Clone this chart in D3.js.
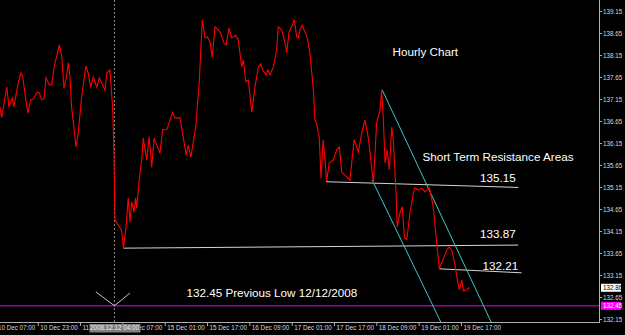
<!DOCTYPE html>
<meta charset="utf-8">
<style>
body { margin: 0; background: #000; }
svg { display: block; background: #000; }
.axis text { font-family: "Liberation Sans", Arial, sans-serif; font-size: 6.3px; fill: #d8d8d8; }
.axis line { stroke: #b0b0b0; }
.axis path { display: none; }
.note { font-family: "Liberation Sans", Arial, sans-serif; font-size: 11.7px; fill: #fff; }
.tag { font-family: "Liberation Sans", Arial, sans-serif; font-size: 6.3px; }
</style>
<svg width="625" height="335"></svg>
<script src="https://cdn.jsdelivr.net/npm/d3@7"></script>
<script>
// hourly bar index (0 = 10 Dec 07:00), weekend bars skipped
var bars = [
  1.7, 2.4, 4.3, 5.1, 6.4, 7.0, 8.3, 9.6, 10.3, 11.5,
  12.3, 13.3, 14.3, 15.8, 16.6, 17.5, 18.4, 19.1, 20.4, 21.3,
  22.2, 24.2, 25.1, 25.9, 26.7, 27.6, 28.2, 28.8, 30.5, 31.3,
  32.6, 34.2, 35.1, 36.0, 37.0, 38.3, 39.3, 41.4, 42.1, 43.3,
  44.3, 44.8, 45.2, 47.7, 48.4, 49.4, 50.2, 50.9, 51.5, 52.4,
  53.0, 53.4, 54.4, 55.3, 55.9, 57.2, 58.1, 59.1, 60.0, 62.2,
  63.2, 64.8, 67.0, 67.9, 69.8, 72.1, 72.9, 73.9, 75.8, 77.1,
  78.2, 79.2, 80.1, 81.1, 82.0, 83.0, 84.3, 85.5, 86.4, 87.2,
  88.3, 89.3, 90.8, 91.8, 93.1, 93.7, 94.7, 95.6, 96.9, 98.1,
  99.4, 100.3, 101.0, 102.3, 102.9, 103.8, 105.1, 106.3, 106.9, 108.2,
  109.5, 110.1, 111.0, 112.0, 113.0, 113.9, 114.5, 115.1, 116.0, 117.0,
  117.9, 118.9, 120.2, 120.8, 121.4, 122.4, 123.1, 123.9, 124.6, 125.2,
  126.2, 127.7, 129.0, 130.0, 130.9, 132.8, 134.0, 135.6, 137.2, 138.5,
  139.7, 141.0, 142.2, 142.9, 144.1, 145.4, 146.0, 146.6, 147.3, 148.1,
  148.9, 149.8, 150.4, 151.4, 151.9, 152.9, 153.8, 154.6, 155.5, 156.7,
  158.0, 158.6, 159.9, 161.1, 162.4, 164.0, 164.5, 165.5, 166.8, 167.8,
  168.7, 170.6, 171.6, 172.5, 173.7, 174.6, 175.4, 176.3, 176.9, 178.1,
  179.1
];
var closes = [
  136.97, 136.74, 137.42, 136.97, 137.17, 136.97, 137.42, 137.74, 137.67, 137.13,
  136.83, 137.13, 137.15, 137.31, 137.29, 137.13, 137.17, 137.63, 137.47, 137.47,
  137.88, 138.38, 138.10, 137.40, 137.60, 137.97, 137.65, 136.97, 136.06, 136.38,
  137.20, 137.90, 137.74, 137.42, 137.65, 137.42, 137.63, 137.35, 137.74, 137.81,
  136.97, 135.99, 134.40, 134.17, 133.76, 134.24, 134.90, 134.35, 134.81, 134.58,
  134.90, 134.67, 135.35, 135.76, 136.26, 135.76, 136.29, 135.60, 136.26, 135.92,
  136.45, 136.45, 136.85, 136.72, 136.72, 135.88, 136.10, 135.83, 136.56, 137.58,
  138.95, 138.54, 138.56, 138.45, 138.10, 138.79, 138.72, 138.60, 138.42, 138.38,
  138.76, 138.54, 138.60, 138.49, 137.88, 138.04, 137.54, 137.58, 136.85, 137.42,
  137.88, 137.95, 137.81, 137.70, 137.81, 137.70, 137.88, 138.26, 138.79, 138.72,
  138.42, 138.20, 138.67, 138.79, 138.95, 138.56, 138.54, 138.72, 138.83, 138.67,
  138.54, 138.20, 137.35, 136.67, 136.60, 136.29, 135.35, 136.22, 135.76, 135.29,
  135.70, 135.76, 135.99, 136.06, 135.49, 135.38, 135.31, 136.22, 135.95, 136.38,
  136.67, 136.26, 135.60, 135.24, 136.60, 136.90, 137.35, 136.74, 135.70, 135.99,
  135.54, 136.51, 136.22, 135.08, 134.24, 134.56, 134.70, 134.01, 133.95, 134.56,
  135.01, 135.13, 135.08, 135.13, 135.04, 135.13, 135.01, 134.70, 133.88, 133.31,
  133.42, 133.72, 133.79, 133.72, 133.38, 133.04, 132.81, 133.04, 132.79, 132.81,
  132.86
];

var timeTicks = [0, 16, 32, 48, 64, 80, 96, 112, 128, 144, 160, 176];
var timeLabels = ["10 Dec 07:00", "10 Dec 23:00", "11 Dec 15:00", "12 Dec 07:00",
  "15 Dec 01:00", "15 Dec 17:00", "16 Dec 09:00", "17 Dec 01:00",
  "17 Dec 17:00", "18 Dec 09:00", "19 Dec 01:00", "19 Dec 17:00"];
var priceTicks = [139.15, 138.65, 138.15, 137.65, 137.15, 136.65, 136.15, 135.65,
  135.15, 134.65, 134.15, 133.65, 133.15, 132.65, 132.15];

// drawn objects: [bar, price] pairs
var resistLines = [
  [[125.0, 135.27], [197.7, 135.14]],
  [[48.4, 133.76], [197.6, 133.83]],
  [[167.8, 133.29], [198.9, 133.20]]
];
var channelLines = [
  [[146.2, 137.36], [188.5, 131.94]],
  [[142.4, 135.31], [169.5, 131.94]]
];
var prevLow = 132.45;
var markerBar = 45;            // 2008.12.12 04:00
var markerLabel = "2008.12.12 04:00";
var lastPrice = 132.86;

var notes = [
  {text: "Hourly Chart", bar: 150.1, price: 138.13},
  {text: "Short Term Resistance Areas", bar: 161.4, price: 135.74},
  {text: "135.15", bar: 183.2, price: 135.275},
  {text: "133.87", bar: 183.2, price: 133.98},
  {text: "132.21", bar: 184.1, price: 133.26},
  {text: "132.45 Previous Low 12/12/2008", bar: 72.2, price: 132.64}
];

var svg = d3.select("svg"),
    plotW = 600,
    plotH = 322;

var x = d3.scaleLinear().domain([0, 176]).range([-4.6, 461]);
var y = d3.scaleLinear().domain([132.15, 139.15]).range([319, 11]);

svg.append("defs").append("clipPath")
    .attr("id", "clip")
  .append("rect")
    .attr("width", plotW)
    .attr("height", plotH);

var plot = svg.append("g").attr("clip-path", "url(#clip)");

// previous low line
plot.append("line")
    .attr("x1", 0).attr("x2", plotW)
    .attr("y1", y(prevLow)).attr("y2", y(prevLow))
    .attr("stroke", "#a000a0")
    .attr("stroke-width", 1.5);

// vertical dotted marker
plot.append("line")
    .attr("x1", x(markerBar)).attr("x2", x(markerBar))
    .attr("y1", 0).attr("y2", plotH)
    .attr("stroke", "#8c8c8c")
    .attr("stroke-dasharray", "2,2");

var seg = d3.line()
    .x(function(d) { return x(d[0]); })
    .y(function(d) { return y(d[1]); });

plot.selectAll(".resist")
    .data(resistLines)
  .enter().append("path")
    .attr("class", "resist")
    .attr("d", seg)
    .attr("fill", "none")
    .attr("stroke", "#d4d4d4")
    .attr("stroke-width", 1);

plot.selectAll(".channel")
    .data(channelLines)
  .enter().append("path")
    .attr("class", "channel")
    .attr("d", seg)
    .attr("fill", "none")
    .attr("stroke", "#40c8c8")
    .attr("stroke-width", 1);

var pts = bars.map(function(b, i) { return [b, closes[i]]; });

plot.append("path")
    .datum(pts)
    .attr("d", seg)
    .attr("fill", "none")
    .attr("stroke", "#ff0000")
    .attr("stroke-width", 1.1);

// arrow mark at the previous low
var ax = x(markerBar), ay = y(prevLow);
plot.append("path")
    .attr("d", "M" + (ax - 18.6) + "," + (ay - 14) + "L" + ax + "," + ay + "L" + (ax + 15.4) + "," + (ay - 12.7))
    .attr("fill", "none")
    .attr("stroke", "#c8c8c8");

// text notes
svg.selectAll(".note")
    .data(notes)
  .enter().append("text")
    .attr("class", "note")
    .attr("x", function(d) { return x(d.bar); })
    .attr("y", function(d) { return y(d.price); })
    .text(function(d) { return d.text; });

// frame
svg.append("line")
    .attr("x1", 0).attr("x2", plotW)
    .attr("y1", plotH + 0.5).attr("y2", plotH + 0.5)
    .attr("stroke", "#b0b0b0");
svg.append("line")
    .attr("x1", plotW - 0.5).attr("x2", plotW - 0.5)
    .attr("y1", 0).attr("y2", plotH + 0.5)
    .attr("stroke", "#b0b0b0");

// bottom time axis
var xAxis = d3.axisBottom(x)
    .tickValues(timeTicks)
    .tickFormat(function(d, i) { return timeLabels[i]; })
    .tickSize(4);

var gx = svg.append("g")
    .attr("class", "axis")
    .attr("transform", "translate(0," + plotH + ")")
    .call(xAxis);
gx.selectAll("text")
    .attr("text-anchor", "start")
    .attr("x", 2)
    .attr("y", 3.5);

// right price axis
var yAxis = d3.axisRight(y)
    .tickValues(priceTicks)
    .tickFormat(d3.format(".2f"))
    .tickSize(2);

svg.append("g")
    .attr("class", "axis")
    .attr("transform", "translate(" + plotW + ",0)")
    .call(yAxis)
  .selectAll("text")
    .attr("x", 3);

// price tags on the axis
var tags = [
  {price: lastPrice, bg: "#ffffff", fg: "#000000"},
  {price: prevLow, bg: "#ff00ff", fg: "#ffffff"}
];
var tag = svg.selectAll(".tagbox")
    .data(tags)
  .enter().append("g")
    .attr("class", "tagbox")
    .attr("transform", function(d) { return "translate(" + (plotW + 1) + "," + y(d.price) + ")"; });
tag.append("rect")
    .attr("x", 0).attr("y", -4)
    .attr("width", 20).attr("height", 8)
    .attr("fill", function(d) { return d.bg; });
tag.append("text")
    .attr("class", "tag")
    .attr("x", 2)
    .attr("dy", "0.35em")
    .attr("fill", function(d) { return d.fg; })
    .text(function(d) { return d3.format(".2f")(d.price); });

// time tag of the marker
var tt = svg.append("g")
    .attr("transform", "translate(" + x(markerBar) + "," + (plotH + 6) + ")");
tt.append("rect")
    .attr("x", -25).attr("y", -4)
    .attr("width", 51).attr("height", 8.5)
    .attr("fill", "#808080");
tt.append("text")
    .attr("class", "tag")
    .attr("text-anchor", "middle")
    .attr("dy", "0.35em")
    .attr("fill", "#f0f0f0")
    .text(markerLabel);
</script>
